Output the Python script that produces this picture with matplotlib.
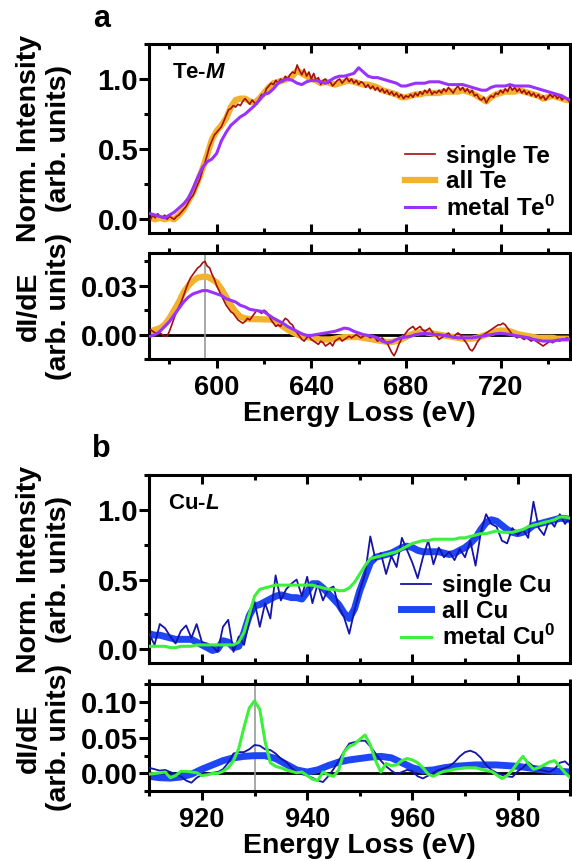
import numpy as np
import matplotlib
matplotlib.use("Agg")
import matplotlib.pyplot as plt
from matplotlib.ticker import MultipleLocator

plt.rcParams['font.family'] = ['Liberation Sans', 'DejaVu Sans']
plt.rcParams['font.weight'] = 'bold'
plt.rcParams['mathtext.fontset'] = 'custom'
plt.rcParams['mathtext.rm'] = 'Liberation Sans:bold'
plt.rcParams['mathtext.bf'] = 'Liberation Sans:bold'
plt.rcParams['mathtext.it'] = 'Liberation Sans:italic:bold'

# ---- Te-M edge (panel a) ----
te_e2 = np.arange(572, 751, 2)     # 2 eV grid for smooth curves
te_e1 = np.arange(572, 751, 1)     # 1 eV grid for the single-atom trace

all_te = [0.01, 0.00, 0.01, 0.00, 0.01, 0.00, 0.03, 0.07, 0.13, 0.19,
          0.27, 0.36, 0.46, 0.57, 0.63, 0.67, 0.72, 0.80, 0.85, 0.86,
          0.86, 0.84, 0.83, 0.86, 0.90, 0.94, 0.97, 0.98, 0.99, 1.00,
          1.02, 1.06, 1.04, 1.02, 1.00, 0.99, 0.97, 0.98, 0.97, 0.96,
          0.97, 0.98, 0.99, 0.98, 0.97, 0.96, 0.96, 0.95, 0.94, 0.92,
          0.91, 0.90, 0.89, 0.87, 0.87, 0.88, 0.89, 0.89, 0.90, 0.90,
          0.90, 0.90, 0.91, 0.91, 0.91, 0.91, 0.92, 0.91, 0.90, 0.88,
          0.86, 0.84, 0.87, 0.89, 0.90, 0.91, 0.91, 0.91, 0.92, 0.91,
          0.90, 0.89, 0.88, 0.86, 0.87, 0.88, 0.87, 0.86, 0.85, 0.85]

metal_te = [0.04, 0.03, 0.02, 0.01, 0.03, 0.05, 0.08, 0.11, 0.15, 0.22,
            0.30, 0.37, 0.41, 0.43, 0.47, 0.56, 0.62, 0.67, 0.70, 0.73,
            0.75, 0.78, 0.81, 0.85, 0.89, 0.90, 0.93, 0.97, 0.99, 1.00,
            0.99, 0.97, 0.96, 0.98, 0.99, 0.99, 0.98, 0.97, 0.99, 1.01,
            1.02, 1.02, 1.03, 1.04, 1.08, 1.05, 1.02, 1.01, 1.01, 1.00,
            0.99, 0.98, 0.97, 0.95, 0.95, 0.96, 0.97, 0.97, 0.97, 0.98,
            0.98, 0.98, 0.97, 0.96, 0.96, 0.96, 0.96, 0.95, 0.94, 0.93,
            0.92, 0.92, 0.94, 0.95, 0.95, 0.95, 0.96, 0.95, 0.95, 0.95,
            0.95, 0.94, 0.93, 0.92, 0.91, 0.90, 0.89, 0.88, 0.86, 0.85]

single_te = [0.00, 0.03, 0.01, 0.04, 0.02, 0.01, 0.03, 0.00, 0.02, 0.01,
             0.00, 0.02, 0.03, 0.05, 0.07, 0.09, 0.12, 0.15, 0.17, 0.21,
             0.25, 0.29, 0.35, 0.40, 0.46, 0.52, 0.56, 0.60, 0.62, 0.64,
             0.66, 0.70, 0.74, 0.78, 0.79, 0.81, 0.80, 0.82, 0.81, 0.84,
             0.86, 0.84, 0.82, 0.85, 0.83, 0.82, 0.86, 0.89, 0.88, 0.93,
             0.95, 0.97, 0.96, 0.99, 0.97, 1.00, 0.98, 1.02, 1.00, 1.03,
             1.05, 1.04, 1.10, 1.06, 1.03, 1.07, 1.02, 1.05, 1.00, 1.04,
             0.99, 1.01, 0.96, 0.99, 1.00, 0.97, 0.98, 0.95, 0.97, 0.99,
             1.00, 0.97, 0.99, 1.01, 0.98, 1.00, 0.97, 0.99, 0.96, 0.98,
             0.97, 0.94, 0.96, 0.93, 0.95, 0.92, 0.94, 0.91, 0.93, 0.90,
             0.92, 0.89, 0.91, 0.88, 0.90, 0.87, 0.89, 0.86, 0.88, 0.87,
             0.89, 0.87, 0.90, 0.88, 0.91, 0.89, 0.92, 0.90, 0.93, 0.89,
             0.91, 0.90, 0.92, 0.90, 0.93, 0.91, 0.94, 0.92, 0.90, 0.93,
             0.95, 0.92, 0.94, 0.91, 0.93, 0.90, 0.92, 0.88, 0.89, 0.86,
             0.85, 0.87, 0.83, 0.86, 0.88, 0.87, 0.90, 0.89, 0.92, 0.90,
             0.93, 0.91, 0.95, 0.92, 0.94, 0.91, 0.93, 0.90, 0.92, 0.89,
             0.91, 0.88, 0.90, 0.87, 0.89, 0.86, 0.88, 0.85, 0.87, 0.89,
             0.87, 0.89, 0.86, 0.88, 0.85, 0.87, 0.86, 0.84, 0.85]

d_all_te = [0.002, 0.003, 0.004, 0.006, 0.010, 0.015, 0.020, 0.026, 0.030, 0.033,
            0.035, 0.0355, 0.0355, 0.034, 0.032, 0.028, 0.023, 0.018, 0.014, 0.011,
            0.010, 0.0095, 0.0095, 0.0095, 0.0093, 0.0093, 0.009, 0.007, 0.005, 0.003,
            0.0015, 0.0, -0.001, -0.0015, -0.002, -0.0025, -0.003, -0.003, -0.003, -0.0025,
            -0.002, -0.0015, -0.0015, -0.0015, -0.0015, -0.002, -0.0025, -0.003, -0.0035, -0.004,
            -0.0045, -0.0045, -0.004, -0.003, -0.0015, 0.0, 0.001, 0.0015, 0.0015, 0.001,
            0.0005, 0.0, -0.0005, -0.001, -0.0015, -0.002, -0.0025, -0.0025, -0.0025, -0.002,
            -0.001, 0.0, 0.001, 0.002, 0.0025, 0.0025, 0.002, 0.001, 0.0, -0.0005,
            -0.001, -0.0015, -0.002, -0.002, -0.002, -0.002, -0.0025, -0.0025, -0.0025, -0.0025]

d_metal_te = [-0.001, 0.0, 0.002, 0.005, 0.008, 0.012, 0.016, 0.020, 0.023, 0.025,
              0.026, 0.027, 0.027, 0.026, 0.025, 0.024, 0.022, 0.021, 0.020, 0.018,
              0.017, 0.0155, 0.015, 0.0145, 0.014, 0.012, 0.010, 0.0085, 0.007, 0.005,
              0.0035, 0.002, 0.0005, -0.0005, -0.0005, 0.0, 0.0005, 0.001, 0.0015, 0.002,
              0.003, 0.004, 0.0035, 0.002, 0.001, 0.0, -0.0005, -0.001, -0.002, -0.004,
              -0.005, -0.0045, -0.003, -0.002, -0.0015, -0.001, 0.0, 0.0005, 0.0007, 0.0005,
              0.0, 0.0, -0.0005, -0.001, -0.0015, -0.002, -0.002, -0.002, -0.002, -0.0015,
              -0.001, -0.0005, 0.0, 0.0005, 0.0008, 0.0005, 0.0, -0.0005, -0.001, -0.0015,
              -0.002, -0.003, -0.0035, -0.004, -0.004, -0.004, -0.0035, -0.003, -0.003, -0.0025]

d_single_te = [0.003, 0.002, 0.001, 0.000, 0.001, 0.000, -0.001, -0.001, 0.002, 0.006,
               0.010, 0.014, 0.017, 0.020, 0.024, 0.028, 0.032, 0.035, 0.037, 0.039,
               0.041, 0.042, 0.044, 0.045, 0.042, 0.041, 0.037, 0.034, 0.030, 0.027,
               0.024, 0.021, 0.018, 0.016, 0.014, 0.013, 0.011, 0.009, 0.008, 0.007,
               0.008, 0.010, 0.009, 0.011, 0.013, 0.015, 0.014, 0.013, 0.015, 0.014,
               0.012, 0.009, 0.007, 0.005, 0.006, 0.005, 0.008, 0.010, 0.009, 0.007,
               0.006, 0.003, 0.001, -0.001, -0.003, -0.004, -0.002, -0.001, -0.003, -0.004,
               -0.005, -0.006, -0.004, -0.005, -0.007, -0.006, -0.005, -0.007, -0.004, -0.003,
               -0.002, -0.004, -0.003, -0.002, -0.001, -0.002, -0.001, 0.000, -0.001, -0.002,
               -0.001, 0.000, -0.001, -0.002, -0.001, -0.002, -0.004, -0.003, -0.002, -0.004,
               -0.005, -0.008, -0.011, -0.013, -0.010, -0.006, -0.003, -0.001, 0.001, 0.003,
               0.004, 0.005, 0.003, 0.004, 0.005, 0.003, 0.002, 0.003, 0.004, 0.002,
               0.000, -0.001, -0.003, -0.002, -0.001, 0.000, 0.001, -0.001, -0.002, 0.000,
               0.001, 0.000, -0.002, -0.004, -0.006, -0.009, -0.010, -0.008, -0.005, -0.003,
               -0.001, 0.000, 0.001, 0.002, 0.003, 0.004, 0.005, 0.006, 0.006, 0.007,
               0.006, 0.004, 0.002, 0.000, -0.001, -0.002, -0.001, -0.002, -0.003, -0.002,
               -0.003, -0.004, -0.003, -0.004, -0.005, -0.006, -0.007, -0.006, -0.005, -0.004,
               -0.005, -0.004, -0.003, -0.004, -0.003, -0.003, -0.002, -0.003, -0.003]

# ---- Cu-L edge (panel b) ----
cu_e1 = np.arange(910, 991, 1)
cu_e2 = np.arange(910, 991, 2)

all_cu = [0.11, 0.10, 0.10, 0.09, 0.08, 0.07, 0.07, 0.07, 0.07, 0.05,
          0.03, 0.01, -0.01, 0.00, 0.06, 0.05, 0.01, 0.02, 0.12, 0.24,
          0.31, 0.32, 0.34, 0.36, 0.38, 0.39, 0.38, 0.37, 0.37, 0.36,
          0.41, 0.47, 0.47, 0.44, 0.40, 0.36, 0.32, 0.26, 0.22, 0.29,
          0.42, 0.52, 0.62, 0.66, 0.67, 0.68, 0.69, 0.71, 0.73, 0.74,
          0.73, 0.71, 0.70, 0.70, 0.70, 0.70, 0.69, 0.68, 0.69, 0.71,
          0.73, 0.76, 0.80, 0.86, 0.91, 0.93, 0.92, 0.89, 0.86, 0.84,
          0.83, 0.84, 0.86, 0.89, 0.90, 0.91, 0.92, 0.93, 0.94, 0.94, 0.93]

metal_cu = [0.02, 0.02, 0.02, 0.02, 0.01, 0.01, 0.02, 0.02, 0.02, 0.03,
            0.03, 0.03, 0.03, 0.03, 0.03, 0.03, 0.03, 0.05, 0.12, 0.25,
            0.38, 0.43, 0.44, 0.45, 0.46, 0.46, 0.46, 0.46, 0.46, 0.46,
            0.46, 0.46, 0.45, 0.44, 0.43, 0.43, 0.42, 0.42, 0.44, 0.48,
            0.54, 0.60, 0.65, 0.66, 0.67, 0.68, 0.69, 0.70, 0.72, 0.74,
            0.76, 0.77, 0.78, 0.78, 0.79, 0.79, 0.79, 0.79, 0.79, 0.80,
            0.80, 0.81, 0.82, 0.83, 0.83, 0.84, 0.85, 0.84, 0.84, 0.84,
            0.85, 0.86, 0.88, 0.89, 0.90, 0.91, 0.92, 0.93, 0.95, 0.95, 0.94]

single_cu = [0.11, 0.03, 0.18, 0.15, 0.09, 0.04, 0.13, 0.17, 0.08, 0.18,
             0.05, 0.04, 0.02, -0.02, 0.16, 0.21, -0.02, 0.09, 0.03, 0.20,
             0.34, 0.16, 0.33, 0.22, 0.53, 0.35, 0.43, 0.47, 0.50, 0.38,
             0.52, 0.33, 0.47, 0.35, 0.43, 0.45, 0.30, 0.23, 0.11, 0.28,
             0.42, 0.54, 0.81, 0.64, 0.69, 0.54, 0.67, 0.59, 0.80, 0.71,
             0.62, 0.51, 0.66, 0.78, 0.61, 0.73, 0.66, 0.70, 0.64, 0.72,
             0.66, 0.78, 0.60, 0.84, 0.97, 0.90, 0.88, 0.78, 0.76, 0.87,
             0.82, 0.86, 0.80, 1.06, 0.87, 0.82, 0.93, 0.88, 0.97, 0.90, 0.95]

d_metal_cu = [-0.001, 0.0, 0.001, 0.002, -0.006, -0.003, 0.003, 0.003, 0.002, 0.001,
              -0.003, -0.002, 0.000, 0.000, 0.003, 0.008, 0.018, 0.035, 0.065, 0.092,
              0.102, 0.090, 0.045, 0.015, 0.010, 0.008, 0.005, 0.003, 0.001, 0.002,
              -0.003, -0.008, -0.010, 0.002, -0.002, -0.004, 0.005, 0.030, 0.038, 0.041,
              0.048, 0.054, 0.040, 0.018, 0.002, 0.014, 0.011, 0.012, 0.018, 0.021,
              0.019, 0.015, 0.008, -0.001, -0.004, 0.000, 0.003, 0.004, 0.006, 0.007,
              0.008, 0.008, 0.008, 0.006, 0.004, 0.003, -0.002, -0.007, -0.003, 0.005,
              0.015, 0.024, 0.014, 0.006, 0.008, 0.012, 0.016, 0.018, 0.010, 0.001, -0.006]

d_all_cu = [-0.004, -0.006, -0.0065, -0.005, -0.001, 0.006, 0.012, 0.018, 0.022, 0.024,
            0.025, 0.025, 0.021, 0.013, 0.005, 0.002, 0.005, 0.011, 0.016, 0.019,
            0.021, 0.023, 0.024, 0.022, 0.015, 0.008, 0.004, 0.005, 0.008, 0.010,
            0.011, 0.012, 0.012, 0.012, 0.011, 0.010, 0.008, 0.006, 0.004, 0.003, 0.002]

d_single_cu = [0.008, 0.006, 0.004, 0.005, 0.002, -0.001, -0.004, -0.010, -0.013, -0.006,
               -0.002, 0.000, 0.001, 0.002, 0.006, 0.015, 0.028, 0.030, 0.030, 0.034,
               0.040, 0.039, 0.034, 0.033, 0.028, 0.021, 0.016, 0.008, 0.002, -0.001,
               -0.003, -0.006, -0.010, -0.012, -0.004, 0.006, 0.018, 0.031, 0.042, 0.044,
               0.046, 0.046, 0.038, 0.028, 0.018, 0.010, 0.004, -0.001, 0.002, 0.005,
               0.003, -0.004, -0.007, -0.003, 0.001, 0.005, 0.007, 0.010, 0.016, 0.024,
               0.030, 0.032, 0.029, 0.022, 0.012, 0.005, 0.001, -0.002, -0.004, -0.005,
               0.003, 0.008, 0.016, 0.010, 0.005, 0.004, 0.002, 0.006, 0.015, 0.017, 0.010]

# colours
c_single_te, c_all_te, c_metal_te = '#A50F0F', '#F2B22E', '#9A32FF'
c_single_cu, c_all_cu, c_metal_cu = '#1414A8', '#1E46F5', '#3CF03C'

fig = plt.figure(figsize=(5.72, 8.61), dpi=100)
L, W = 0.261, 0.736
ax_a = fig.add_axes([L, 0.729, W, 0.220])
ax_ad = fig.add_axes([L, 0.583, W, 0.123])
ax_b = fig.add_axes([L, 0.230, W, 0.218])
ax_bd = fig.add_axes([L, 0.081, W, 0.124])

YTICK_FS = 21
XTICK_FS = 19.5
LAB_FS = 20.5
LEG_FS = 17.5


def style(ax, top_panel):
    for s in ax.spines.values():
        s.set_linewidth(2.2)
    ax.tick_params(axis='y', which='major', direction='out', length=7, width=2.2,
                   labelsize=YTICK_FS, pad=1)
    ax.tick_params(axis='y', which='minor', direction='out', length=3.5, width=2.2)
    d = 'in' if top_panel else 'out'
    ax.tick_params(axis='x', which='major', direction=d, length=6.5, width=2.2,
                   top=True, bottom=True, labelsize=XTICK_FS, pad=5)
    ax.tick_params(axis='x', which='minor', direction=d, length=3.5, width=2.2,
                   top=True, bottom=True)
    if top_panel:
        ax.tick_params(axis='x', labelbottom=False)


def ylab(ax, text):
    ax.text(-0.25, 0.5, text, transform=ax.transAxes, rotation=90,
            ha='center', va='center', fontsize=LAB_FS, fontweight='bold',
            multialignment='center', linespacing=1.2)


def legend(ax):
    h, l = ax.get_legend_handles_labels()
    ax.legend([h[1], h[0], h[2]], [l[1], l[0], l[2]], loc='lower right',
              bbox_to_anchor=(1.0, -0.01), frameon=False, fontsize=LEG_FS,
              handlelength=1.25, handletextpad=0.45, labelspacing=0.1,
              borderaxespad=0.2)


# panel a, intensity
ax_a.plot(te_e2, all_te, color=c_all_te, lw=4.5, label='all Te', zorder=2)
ax_a.plot(te_e1, single_te, color=c_single_te, lw=1.2, label='single Te', zorder=3)
ax_a.plot(te_e2, metal_te, color=c_metal_te, lw=2.2, label='metal Te$^{0}$', zorder=4)
ax_a.set_xlim(571.5, 749.5)
ax_a.set_ylim(-0.1, 1.25)
ax_a.set_yticks([0, 0.5, 1.0])
ax_a.set_yticklabels(['0.0', '0.5', '1.0'])
ax_a.yaxis.set_minor_locator(MultipleLocator(0.25))
ax_a.xaxis.set_major_locator(MultipleLocator(40))
ax_a.xaxis.set_minor_locator(MultipleLocator(20))
style(ax_a, True)
legend(ax_a)
ax_a.text(0.054, 0.847, 'Te-$\\mathit{M}$', transform=ax_a.transAxes,
          fontsize=16, ha='left', va='center')
ylab(ax_a, 'Norm. Intensity\n(arb. units)')

# panel a, derivative
ax_ad.axhline(0, color='black', lw=2, zorder=1)
ax_ad.axvline(595, color='#999999', lw=1.2, zorder=1)
ax_ad.plot(te_e2, d_all_te, color=c_all_te, lw=4.5, zorder=2)
ax_ad.plot(te_e1, d_single_te, color=c_single_te, lw=1.2, zorder=3)
ax_ad.plot(te_e2, d_metal_te, color=c_metal_te, lw=2.2, zorder=4)
ax_ad.set_xlim(571.5, 749.5)
ax_ad.set_ylim(-0.015, 0.05)
ax_ad.set_yticks([0.0, 0.03])
ax_ad.set_yticklabels(['0.00', '0.03'])
ax_ad.yaxis.set_minor_locator(MultipleLocator(0.015))
ax_ad.xaxis.set_major_locator(MultipleLocator(40))
ax_ad.xaxis.set_minor_locator(MultipleLocator(20))
style(ax_ad, False)
ax_ad.set_xlabel('Energy Loss (eV)', fontsize=LAB_FS, fontweight='bold', labelpad=0)
ylab(ax_ad, 'dI/dE\n(arb. units)')

# panel b, intensity
ax_b.plot(cu_e1, all_cu, color=c_all_cu, lw=5, label='all Cu', zorder=2)
ax_b.plot(cu_e1, single_cu, color=c_single_cu, lw=1.3, label='single Cu', zorder=3)
ax_b.plot(cu_e1, metal_cu, color=c_metal_cu, lw=2.2, label='metal Cu$^{0}$', zorder=4)
ax_b.set_xlim(910, 990)
ax_b.set_ylim(-0.1, 1.25)
ax_b.set_yticks([0, 0.5, 1.0])
ax_b.set_yticklabels(['0.0', '0.5', '1.0'])
ax_b.yaxis.set_minor_locator(MultipleLocator(0.25))
ax_b.xaxis.set_major_locator(MultipleLocator(20))
ax_b.xaxis.set_minor_locator(MultipleLocator(10))
style(ax_b, True)
legend(ax_b)
ax_b.text(0.044, 0.849, 'Cu-$\\mathit{L}$', transform=ax_b.transAxes,
          fontsize=16, ha='left', va='center')
ylab(ax_b, 'Norm. Intensity\n(arb. units)')

# panel b, derivative
ax_bd.axhline(0, color='black', lw=2, zorder=1)
ax_bd.axvline(930, color='#999999', lw=1.2, zorder=1)
ax_bd.plot(cu_e2, d_all_cu, color=c_all_cu, lw=5, zorder=2)
ax_bd.plot(cu_e1, d_single_cu, color=c_single_cu, lw=1.3, zorder=3)
ax_bd.plot(cu_e1, d_metal_cu, color=c_metal_cu, lw=2.2, zorder=4)
ax_bd.set_xlim(910, 990)
ax_bd.set_ylim(-0.025, 0.125)
ax_bd.set_yticks([0.0, 0.05, 0.10])
ax_bd.set_yticklabels(['0.00', '0.05', '0.10'])
ax_bd.yaxis.set_minor_locator(MultipleLocator(0.025))
ax_bd.xaxis.set_major_locator(MultipleLocator(20))
ax_bd.xaxis.set_minor_locator(MultipleLocator(10))
style(ax_bd, False)
ax_bd.set_xlabel('Energy Loss (eV)', fontsize=LAB_FS, fontweight='bold', labelpad=0)
ylab(ax_bd, 'dI/dE\n(arb. units)')

fig.text(93 / 572, 1 - 27 / 861, 'a', fontsize=22, fontweight='bold')
fig.text(92 / 572, 1 - 457 / 861, 'b', fontsize=22, fontweight='bold')

fig.savefig('out.png', dpi=100)
